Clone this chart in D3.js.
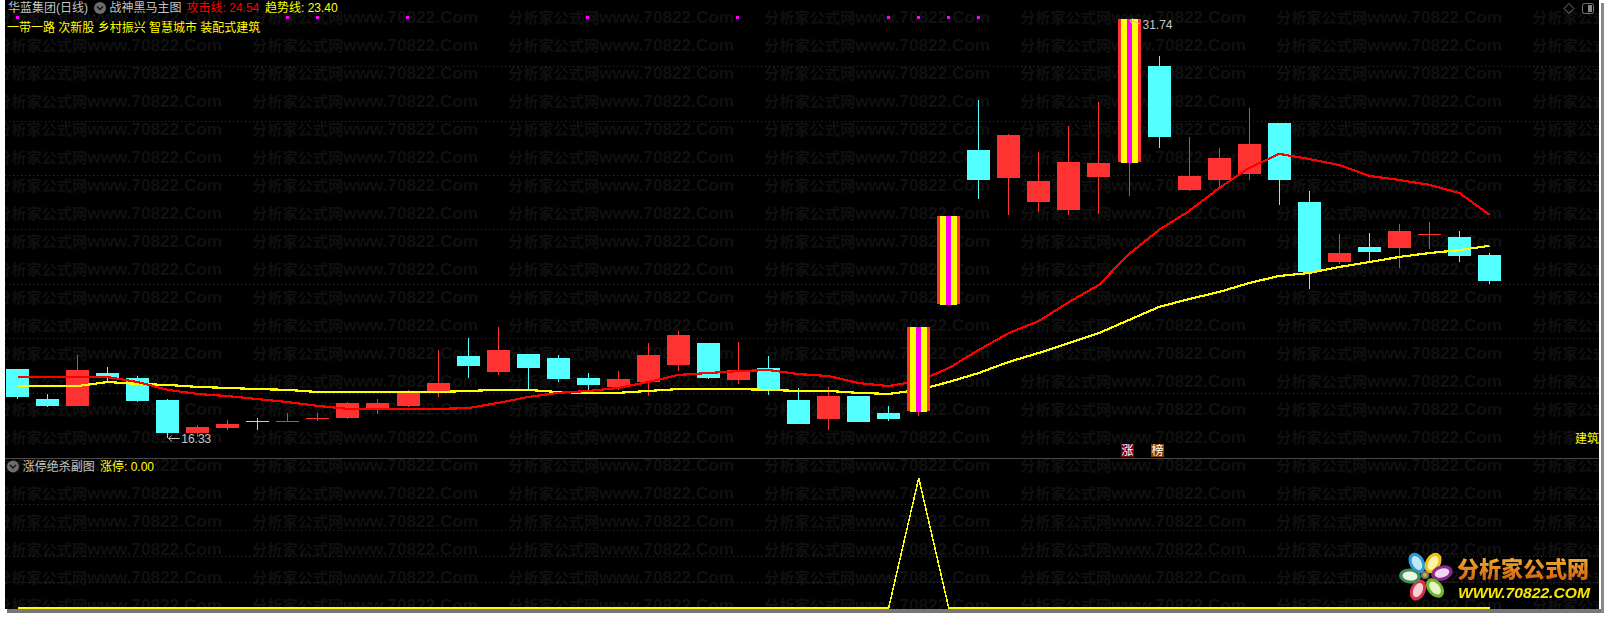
<!DOCTYPE html>
<html><head><meta charset="utf-8">
<script src="https://cdn.jsdelivr.net/npm/d3@7/dist/d3.min.js"></script>
<style>html,body{margin:0;padding:0;background:#fff;overflow:hidden}svg{display:block}
text{font-family:"Liberation Sans","Noto Sans CJK SC",sans-serif}</style></head><body>
<script>
// ---------- data: daily candles ----------
const opens  = [18.87,17.76,17.51,18.72,18.54,17.73,16.51,16.70,16.97,16.96,17.07,17.07,17.43,17.51,18.06,19.35,18.76,19.42,19.27,18.54,18.21,18.39,19.01,19.82,18.46,18.90,17.73,17.03,17.87,17.25,17.29,21.22,26.92,25.89,25.01,24.72,25.93,26.44,30.01,25.45,25.82,26.04,27.91,25.01,22.80,23.35,23.32,23.83,23.72,23.06];
const highs  = [18.87,17.95,19.38,18.94,18.61,17.76,16.81,16.99,17.07,17.25,17.25,17.65,17.76,18.10,19.57,20.01,20.41,19.42,19.38,18.72,18.79,19.82,20.26,19.82,19.86,19.35,18.17,18.21,17.87,17.51,20.41,24.49,28.76,27.51,26.85,27.80,28.69,31.74,30.38,27.40,27.00,28.47,27.91,25.41,23.83,23.87,24.20,24.27,23.94,23.13];
const lows   = [17.76,17.47,17.51,18.43,17.65,16.33,16.37,16.62,16.62,16.96,16.96,17.03,17.21,17.47,17.84,18.54,18.65,18.10,18.39,18.10,18.10,17.87,18.79,18.50,18.32,17.91,16.85,16.62,16.92,16.96,17.14,21.22,25.12,24.53,24.64,24.53,24.57,25.23,27.00,25.41,25.49,25.82,24.90,21.81,22.73,22.77,22.58,23.28,22.80,21.99];
const closes = [17.84,17.51,18.83,18.54,17.69,16.51,16.73,16.85,16.95,16.96,17.07,17.62,17.62,17.99,18.35,18.98,19.57,18.90,18.50,18.28,18.50,19.38,20.12,18.54,18.83,18.10,16.85,17.87,16.92,17.03,20.41,24.49,25.82,27.47,25.78,26.48,26.44,31.74,27.40,25.97,26.63,27.14,25.82,22.43,23.13,23.17,23.94,23.83,23.02,22.10];
const limitUpDays = [30,31,37];
const attackLine = [18.57,18.57,18.57,18.57,18.39,18.10,17.95,17.87,17.76,17.65,17.51,17.40,17.40,17.40,17.40,17.43,17.62,17.84,17.99,18.06,18.17,18.39,18.65,18.72,18.79,18.83,18.68,18.61,18.35,18.24,18.43,18.90,19.57,20.19,20.63,21.33,21.96,23.10,23.98,24.68,25.52,26.26,26.78,26.59,26.37,25.97,25.82,25.64,25.34,24.54];
const trendLine  = [18.24,18.24,18.24,18.39,18.32,18.28,18.21,18.17,18.13,18.10,18.02,18.02,18.02,18.02,18.02,18.06,18.10,18.10,18.02,17.99,17.99,18.06,18.13,18.13,18.13,18.10,18.06,18.06,17.99,17.95,18.10,18.39,18.72,19.13,19.46,19.82,20.19,20.67,21.15,21.44,21.70,22.03,22.29,22.40,22.62,22.80,22.99,23.13,23.24,23.40];
const signalDays = [0,9,10,13,19,24,29,30,31,32];
const limitSignal = [0,0,0,0,0,0,0,0,0,0,0,0,0,0,0,0,0,0,0,0,0,0,0,0,0,0,0,0,0,0,1,0,0,0,0,0,0,0,0,0,0,0,0,0,0,0,0,0,0,0];
const mainGridTicks = [30,28,26,24,22,20,18];
const subGridTicks = [0.2,0.4,0.6,0.8];
const stockName = "华蓝集团(日线)";
const mainTitle = "战神黑马主图";
const subTitle = "涨停绝杀副图";
const conceptTags = "一带一路 次新股 乡村振兴 智慧城市 装配式建筑";
const watermarkCn = "分析家公式网";
const watermarkEn = "www.70822.Com";

// ---------- layout ----------
const W=1609,H=617,L=5,R=1599,B=609;
const svg=d3.select("body").append("svg").attr("width",W).attr("height",H).attr("viewBox",`0 0 ${W} ${H}`);
const defs=svg.append("defs");
defs.append("clipPath").attr("id","panel").append("rect").attr("x",L).attr("y",0).attr("width",R-L).attr("height",B);
const lg=defs.append("linearGradient").attr("id","logoText").attr("x1",0).attr("y1",0).attr("x2",0).attr("y2",1);
lg.append("stop").attr("offset","0").attr("stop-color","#f0b030");
lg.append("stop").attr("offset","1").attr("stop-color","#cf5a10");
defs.append("filter").attr("id","soft").append("feGaussianBlur").attr("stdDeviation",0.35);

svg.append("rect").attr("width",W).attr("height",H).attr("fill","#fff");
// window shadow
svg.append("rect").attr("x",L+2).attr("y",B).attr("width",R-L+2).attr("height",4).attr("fill","#777");
svg.append("rect").attr("x",R+2).attr("y",3).attr("width",3).attr("height",B+1).attr("fill","#888");
svg.append("rect").attr("x",L).attr("y",0).attr("width",R-L).attr("height",B).attr("fill","#000");

const x=d3.scaleLinear().domain([0,49]).range([17.5,1489.5]);
const y=d3.scaleLinear().domain([16.33,31.74]).range([438,19]);
const ySub=d3.scaleLinear().domain([0,1]).range([608,478]);
const bodyW=23;
const plot=svg.append("g").attr("clip-path","url(#panel)");

// watermark
const wm=plot.append("g").attr("fill","#101010").attr("font-weight","bold");
d3.range(0,7).forEach(c=>d3.range(0,22).forEach(r=>{
  const t=wm.append("text").attr("x",-4+256*c).attr("y",17.5+28*r).attr("dy","0.36em");
  t.append("tspan").attr("font-size",15.2).attr("font-family",'"Noto Sans CJK SC"').text(watermarkCn);
  t.append("tspan").attr("font-size",17.2).attr("font-family",'"Liberation Sans"').text(watermarkEn);
}));

// grid
const gridStyle=s=>s.attr("stroke","#343434").attr("stroke-width",1).attr("stroke-dasharray","1 3").attr("shape-rendering","crispEdges");
plot.append("g").selectAll("line").data(mainGridTicks).join("line")
  .attr("x1",L).attr("x2",R).attr("y1",d=>Math.round(y(d))+.5).attr("y2",d=>Math.round(y(d))+.5).call(gridStyle);
plot.append("g").selectAll("line").data(subGridTicks).join("line")
  .attr("x1",L).attr("x2",R).attr("y1",d=>Math.round(ySub(d))+.5).attr("y2",d=>Math.round(ySub(d))+.5).call(gridStyle);
plot.append("line").attr("x1",L).attr("x2",R).attr("y1",458.5).attr("y2",458.5).attr("stroke","#484848").attr("shape-rendering","crispEdges");

// candles
const RED="#ff3232",CYAN="#54ffff";
const days=d3.range(opens.length);
const isLimit=i=>limitUpDays.includes(i);
const color=i=>closes[i]>=opens[i]?RED:CYAN;
const candles=plot.append("g").attr("shape-rendering","crispEdges");
function wick(g,i){
  g.append("rect").attr("x",Math.round(x(i)-.5)).attr("width",1)
   .attr("y",y(highs[i])).attr("height",Math.max(0,y(lows[i])-y(highs[i]))).attr("fill",color(i));
}
days.filter(i=>!isLimit(i)).forEach(i=>{
  wick(candles,i);
  const top=y(Math.max(opens[i],closes[i])),bot=y(Math.min(opens[i],closes[i]));
  candles.append("rect").attr("x",Math.round(x(i)-bodyW/2)).attr("width",bodyW)
    .attr("y",Math.round(top)).attr("height",Math.max(1,Math.round(bot)-Math.round(top))).attr("fill",color(i));
});

// moving lines
const line=vals=>d3.line().x((d,i)=>x(i)).y(d=>y(d))(vals);
plot.append("path").attr("d",line(trendLine)).attr("fill","none").attr("stroke","#ffff00").attr("stroke-width",2.2).attr("shape-rendering","crispEdges");
plot.append("path").attr("d",line(attackLine)).attr("fill","none").attr("stroke","#ff0000").attr("stroke-width",2.2).attr("shape-rendering","crispEdges");

// limit-up striped bars, above the lines
const limits=plot.append("g").attr("shape-rendering","crispEdges");
limitUpDays.forEach(i=>{
  wick(limits,i);
  const x0=Math.round(x(i)-bodyW/2),top=Math.round(y(closes[i])),bot=Math.round(y(opens[i]));
  limits.append("rect").attr("x",x0).attr("width",bodyW).attr("y",top).attr("height",bot-top-1).attr("fill",RED);
  limits.append("rect").attr("x",x0+3).attr("width",17).attr("y",top).attr("height",bot-top).attr("fill","#ffff00");
  limits.append("rect").attr("x",x0+9).attr("width",5).attr("y",top).attr("height",bot-top).attr("fill","#ff00ff");
});

// top signal dots
plot.append("g").attr("shape-rendering","crispEdges").selectAll("rect").data(signalDays).join("rect")
  .attr("x",d=>Math.round(x(d))-2).attr("y",16).attr("width",3).attr("height",3).attr("fill","#ff00ff");

// high / low annotations
const GREY="#c4c4c4";
const hiIdx=d3.maxIndex(highs),loIdx=d3.minIndex(lows);
plot.append("text").attr("x",x(hiIdx)+13.5).attr("y",y(highs[hiIdx])+6).attr("dy","0.36em").attr("font-size",12).attr("fill",GREY).text(d3.max(highs).toFixed(2));
plot.append("path").attr("d",`M${x(hiIdx)+1},${y(highs[hiIdx])+1.5}l10,3.5M${x(hiIdx)+1},${y(highs[hiIdx])+1.5}l3,-2M${x(hiIdx)+1},${y(highs[hiIdx])+1.5}l2,3`).attr("stroke",GREY).attr("fill","none");
plot.append("text").attr("x",x(loIdx)+13.5).attr("y",y(lows[loIdx])+1).attr("dy","0.36em").attr("font-size",12).attr("fill",GREY).text(d3.min(lows).toFixed(2));
plot.append("path").attr("d",`M${x(loIdx)+1},${y(lows[loIdx])+.5}h11M${x(loIdx)+1},${y(lows[loIdx])+.5}l3,-3M${x(loIdx)+1},${y(lows[loIdx])+.5}l3,3`).attr("stroke",GREY).attr("fill","none");

// sub chart
plot.append("path").attr("d",d3.line().x((d,i)=>x(i)).y(d=>ySub(d))(limitSignal)).attr("fill","none").attr("stroke","#ffff00").attr("stroke-width",1.5).attr("shape-rendering","crispEdges");

// header texts
const label=(tx,ty,s,fill,size=12,g=svg)=>g.append("text").attr("x",tx).attr("y",ty).attr("dy","0.36em").attr("font-size",size).attr("fill",fill).text(s);
function chevron(cx,cy){
  svg.append("circle").attr("cx",cx).attr("cy",cy).attr("r",6).attr("fill","#6c6c6c");
  svg.append("path").attr("d",`M${cx-3},${cy-1.5}l3,3l3,-3`).attr("stroke","#111").attr("stroke-width",1.4).attr("fill","none");
}
label(8,8,stockName,GREY);
chevron(100,8);
label(109.5,8,mainTitle,GREY);
label(186.6,8,"攻击线: "+attackLine[attackLine.length-1].toFixed(2),"#ff0000");
label(265,8,"趋势线: "+trendLine[trendLine.length-1].toFixed(2),"#ffff00");
label(7,28,conceptTags,"#ffff00");
chevron(13,466.5);
label(22.7,466.5,subTitle,GREY);
label(100,466.5,"涨停: "+limitSignal[limitSignal.length-1].toFixed(2),"#ffff00");

// tags near the divider
const tag=(tx,fill,s)=>{
  svg.append("rect").attr("x",tx).attr("y",444).attr("width",13).attr("height",13).attr("fill",fill);
  svg.append("text").attr("x",tx+6.5).attr("y",450.5).attr("dy","0.36em").attr("text-anchor","middle").attr("font-size",12).attr("fill","#fff").text(s);
};
tag(1121,"#800000","涨");
tag(1151,"#804000","榜");
label(1575,438.5,"建筑","#ffff00",12,plot);

// top-right icons
svg.append("path").attr("d","M1569,3.5l5,5l-5,5l-5,-5z").attr("fill","none").attr("stroke","#777");
svg.append("rect").attr("x",1582.5).attr("y",3.5).attr("width",11).attr("height",10).attr("rx",2).attr("fill","none").attr("stroke","#777");
svg.append("rect").attr("x",1588).attr("y",5).attr("width",4).attr("height",7).attr("fill","#888");

// logo
const petals=[
 {dx:-8,dy:-12,rot:60,c:"#2a9ad8",i:"#bfe8f7"},
 {dx:8,dy:-12,rot:-60,c:"#eebf1c",i:"#fdf3a8"},
 {dx:17,dy:-2,rot:-15,c:"#8a2a8e",i:"#efd8ef"},
 {dx:10,dy:13,rot:50,c:"#6fb52e",i:"#e4f4c4"},
 {dx:-7,dy:15,rot:-65,c:"#d8324a",i:"#f7d0d8"},
 {dx:-15,dy:1,rot:5,c:"#3d8f5a",i:"#eef5e0"}];
const logo=svg.append("g").attr("filter","url(#soft)").attr("transform","translate(1425,575)");
petals.forEach(p=>{
  const g=logo.append("g").attr("transform",`translate(${p.dx},${p.dy}) rotate(${p.rot})`);
  g.append("ellipse").attr("rx",11).attr("ry",7.5).attr("fill",p.c);
  g.append("ellipse").attr("rx",7.5).attr("ry",4.5).attr("fill",p.i);
});
logo.append("circle").attr("r",4).attr("fill","#6f7a70");
logo.append("circle").attr("r",2).attr("fill","#d9a93a");
svg.append("text").attr("x",1457).attr("y",569).attr("dy","0.36em").attr("font-size",22).attr("font-weight",900)
  .attr("font-family",'"Noto Sans CJK SC"').attr("fill","url(#logoText)").attr("filter","url(#soft)").text("分析家公式网");
svg.append("text").attr("x",1458).attr("y",592.5).attr("dy","0.36em").attr("font-size",15.5).attr("font-weight","bold").attr("font-style","italic")
  .attr("textLength",132).attr("lengthAdjust","spacingAndGlyphs").attr("fill","#f7e600").attr("filter","url(#soft)").text("WWW.70822.COM");
</script></body></html>
